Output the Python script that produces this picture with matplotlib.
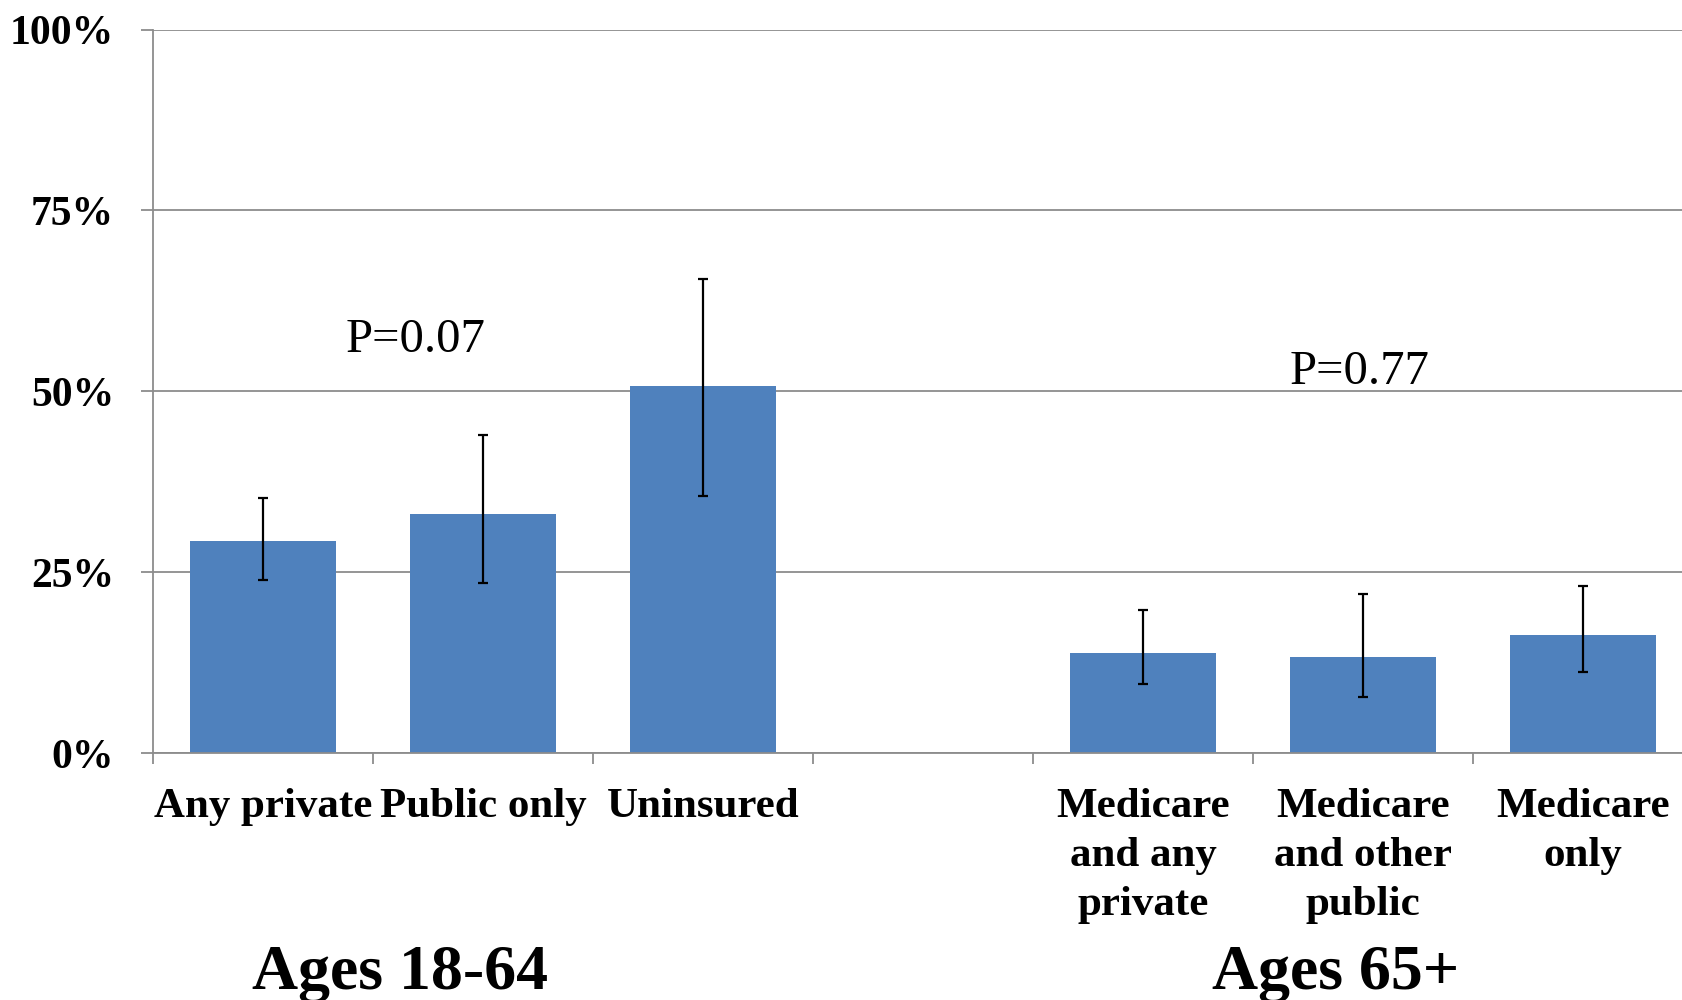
import numpy as np
import matplotlib
matplotlib.use('Agg')
from matplotlib import pyplot as plt

# values (percent)
categories = ['Any private', 'Public only', 'Uninsured', '',
              'Medicare\nand any\nprivate', 'Medicare\nand other\npublic', 'Medicare\nonly']
values = [29.3, 33.0, 50.7, np.nan, 13.9, 13.3, 16.4]
ci_low = [24.0, 23.5, 35.6, np.nan, 9.6, 7.8, 11.3]
ci_high = [35.3, 44.0, 65.5, np.nan, 19.8, 22.0, 23.1]
yticks = [0, 25, 50, 75, 100]
group_labels = ['Ages 18-64', 'Ages 65+']
p_labels = ['P=0.07', 'P=0.77']

BLUE = '#4F81BD'
GRID = '#8C8C8C'
SERIF = ['Liberation Serif', 'DejaVu Serif']

fig = plt.figure(figsize=(16.82, 10), dpi=100)
ax = fig.add_axes([0.091, 0.2467, 0.9155, 0.7238])

x = np.arange(len(categories))
vals = np.array(values)
lo = vals - np.array(ci_low)
hi = np.array(ci_high) - vals
keep = ~np.isnan(vals)

ax.bar(x[keep], vals[keep], width=0.66, color=BLUE, zorder=2)
ax.errorbar(x[keep], vals[keep], yerr=[lo[keep], hi[keep]], fmt='none',
            ecolor='black', elinewidth=1.6, capsize=3.8, capthick=1.6, zorder=3)

ax.set_xlim(-0.5, len(categories) - 0.5)
ax.set_ylim(0, 100)

# y axis
ax.set_yticks(yticks)
ax.set_yticklabels(['%d%%' % v for v in yticks], fontfamily=SERIF,
                   fontweight='bold', fontsize=30)
ax.tick_params(axis='y', length=9, width=1.3, color=GRID, pad=19)
ax.yaxis.grid(True, color=GRID, linewidth=1.3, zorder=0)
ax.set_axisbelow(True)

# x axis: ticks at slot boundaries, labels at centers
ax.set_xticks(np.arange(len(categories) + 1) - 0.5)
ax.set_xticklabels([])
ax.tick_params(axis='x', which='major', length=8, width=1.3, color=GRID)
ax.set_xticks(x, minor=True)
ax.set_xticklabels(categories, minor=True, fontfamily=SERIF,
                   fontweight='bold', fontsize=31, linespacing=1.38)
ax.tick_params(axis='x', which='minor', length=0, pad=25)

for s in ['top', 'right']:
    ax.spines[s].set_visible(False)
for s in ['left', 'bottom']:
    ax.spines[s].set_color(GRID)
    ax.spines[s].set_linewidth(1.3)

# p-values
ax.text(0.695, 55.4, p_labels[0], fontfamily=SERIF, fontsize=35,
        ha='center', va='baseline')
ax.text(4.986, 51.0, p_labels[1], fontfamily=SERIF, fontsize=35,
        ha='center', va='baseline')

# group titles
fig.text(400 / 1682, 0.011, group_labels[0], fontfamily=SERIF,
         fontweight='bold', fontsize=46, ha='center', va='baseline')
fig.text(1336 / 1682, 0.011, group_labels[1], fontfamily=SERIF,
         fontweight='bold', fontsize=46, ha='center', va='baseline')

fig.savefig('out.png', dpi=100)
